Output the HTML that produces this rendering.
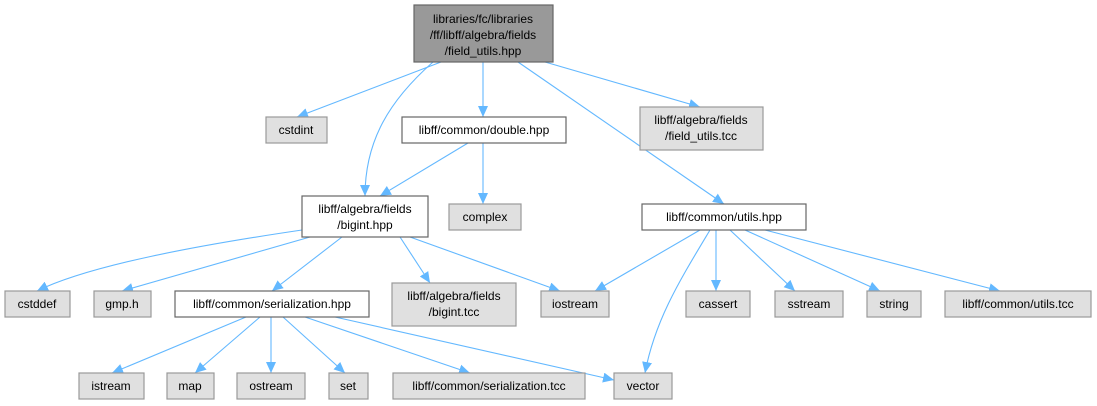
<!DOCTYPE html>
<html><head><meta charset="utf-8"><style>
body{margin:0;background:#fff;}
svg{display:block;}
text{font-family:"Liberation Sans",Arial,sans-serif;font-size:12px;fill:#000;text-anchor:middle;}
.g{fill:#e0e0e0;stroke:#999;stroke-width:1.2;}
.w{fill:#fff;stroke:#666;stroke-width:1.2;}
.r{fill:#999;stroke:#666;stroke-width:1.2;}
.e{fill:none;stroke:#63b8ff;stroke-width:1.1;marker-end:url(#a);}
</style></head><body>
<svg width="1097" height="406" viewBox="0 0 1097 406" xmlns="http://www.w3.org/2000/svg">
<defs><marker id="a" markerWidth="12" markerHeight="10" refX="11" refY="5" orient="auto" markerUnits="userSpaceOnUse"><polygon points="0,0 11,5 0,10" fill="#63b8ff"/></marker></defs>
<!-- edges -->
<path class="e" d="M441,62 L297,117"/>
<path class="e" d="M433,62 C390,100 365,140 365,196"/>
<path class="e" d="M483,62 L483,117"/>
<path class="e" d="M545,62 L700,107"/>
<path class="e" d="M518,62 L724,204"/>
<path class="e" d="M468,143 L380,196"/>
<path class="e" d="M483,143 L483,204"/>
<path class="e" d="M302,230 C200,245 90,265 37,291"/>
<path class="e" d="M310,237 L122,291"/>
<path class="e" d="M342,237 L272,291"/>
<path class="e" d="M400,237 L430,283"/>
<path class="e" d="M410,237 L560,291"/>
<path class="e" d="M700,230 L595,291"/>
<path class="e" d="M710,230 C680,280 655,320 645,373"/>
<path class="e" d="M716,230 L716,291"/>
<path class="e" d="M730,230 L795,291"/>
<path class="e" d="M745,230 L880,291"/>
<path class="e" d="M765,230 L1000,291"/>
<path class="e" d="M246,317 L112,373"/>
<path class="e" d="M260,317 L195,373"/>
<path class="e" d="M271,317 L271,373"/>
<path class="e" d="M283,317 L345,373"/>
<path class="e" d="M305,317 L470,373"/>
<path class="e" d="M335,317 L614,380"/>
<!-- nodes -->
<rect class="r" x="414" y="5" width="139" height="57"/>
<text x="483" y="23">libraries/fc/libraries</text>
<text x="483" y="39">/ff/libff/algebra/fields</text>
<text x="483" y="55">/field_utils.hpp</text>

<rect class="g" x="266" y="117" width="61" height="26"/><text x="296" y="134">cstdint</text>
<rect class="w" x="402" y="117" width="164" height="26"/><text x="484" y="134">libff/common/double.hpp</text>
<rect class="g" x="640" y="107" width="123" height="43"/><text x="701" y="124">libff/algebra/fields</text><text x="701" y="140">/field_utils.tcc</text>

<rect class="w" x="302" y="196" width="126" height="41"/><text x="365" y="213">libff/algebra/fields</text><text x="365" y="229">/bigint.hpp</text>
<rect class="g" x="449" y="204" width="72" height="26"/><text x="485" y="221">complex</text>
<rect class="w" x="642" y="204" width="164" height="26"/><text x="724" y="221">libff/common/utils.hpp</text>

<rect class="g" x="5" y="291" width="65" height="26"/><text x="37" y="308">cstddef</text>
<rect class="g" x="94" y="291" width="57" height="26"/><text x="122" y="308">gmp.h</text>
<rect class="w" x="175" y="291" width="194" height="26"/><text x="272" y="308">libff/common/serialization.hpp</text>
<rect class="g" x="392" y="283" width="124" height="43"/><text x="454" y="300">libff/algebra/fields</text><text x="454" y="316">/bigint.tcc</text>
<rect class="g" x="541" y="291" width="68" height="26"/><text x="575" y="308">iostream</text>
<rect class="g" x="686" y="291" width="64" height="26"/><text x="718" y="308">cassert</text>
<rect class="g" x="775" y="291" width="68" height="26"/><text x="809" y="308">sstream</text>
<rect class="g" x="867" y="291" width="54" height="26"/><text x="894" y="308">string</text>
<rect class="g" x="945" y="291" width="146" height="26"/><text x="1018" y="308">libff/common/utils.tcc</text>

<rect class="g" x="79" y="373" width="65" height="26"/><text x="111" y="390">istream</text>
<rect class="g" x="167" y="373" width="47" height="26"/><text x="190" y="390">map</text>
<rect class="g" x="237" y="373" width="68" height="26"/><text x="271" y="390">ostream</text>
<rect class="g" x="329" y="373" width="39" height="26"/><text x="348" y="390">set</text>
<rect class="g" x="393" y="373" width="192" height="26"/><text x="489" y="390">libff/common/serialization.tcc</text>
<rect class="g" x="614" y="373" width="58" height="26"/><text x="643" y="390">vector</text>
</svg>
</body></html>
